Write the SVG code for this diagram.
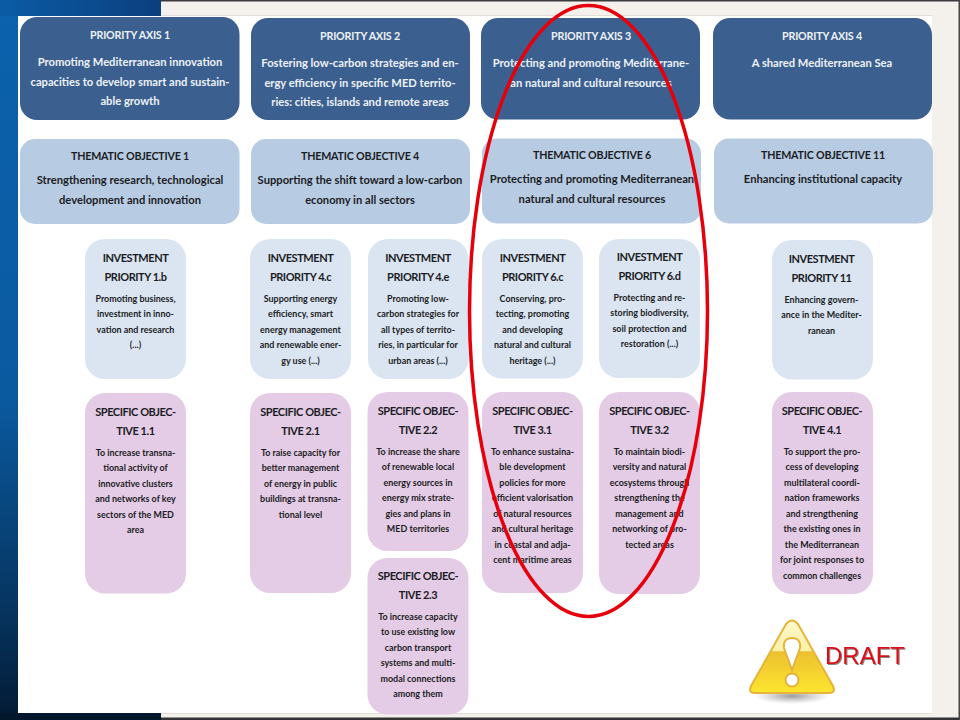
<svg xmlns="http://www.w3.org/2000/svg" width="960" height="720" viewBox="0 0 960 720">
<style>
text{font-family:"Lato","Open Sans","Liberation Sans",sans-serif;text-anchor:middle;font-weight:700}
.pa{fill:#3b608f}.to{fill:#b7cce3}.ip{fill:#dae5f1}.so{fill:#e4cce6}
.pa text{fill:#eef2f7}
.to text,.ip text,.so text{fill:#1c1c24}
.h1{font-size:10.7px;letter-spacing:-.2px}.b1{font-size:11.2px}.h2{font-size:11px;letter-spacing:-.45px}.b2{font-size:8.95px}
</style>
<defs>
<linearGradient id="bg" x1="0" y1="0" x2="0" y2="1"><stop offset="0" stop-color="#0c62ad"/><stop offset=".55" stop-color="#0a5aa0"/><stop offset=".85" stop-color="#06345f"/><stop offset="1" stop-color="#021a33"/></linearGradient>
<linearGradient id="topbar" x1="0" y1="0" x2="1" y2="0"><stop offset="0" stop-color="#0a5ba6"/><stop offset="1" stop-color="#0b3f7e"/></linearGradient>
<linearGradient id="tri" x1="0" y1="0" x2="0" y2="1"><stop offset="0" stop-color="#fff8cf"/><stop offset=".42" stop-color="#fdf0a6"/><stop offset=".43" stop-color="#ecc030"/><stop offset="1" stop-color="#fde52f"/></linearGradient>
<radialGradient id="shade"><stop offset="0" stop-color="#777" stop-opacity=".75"/><stop offset="1" stop-color="#999" stop-opacity="0"/></radialGradient>
<filter id="ds" x="-10%" y="-20%" width="120%" height="150%"><feDropShadow dx="1" dy="1" stdDeviation=".6" flood-color="#555" flood-opacity=".7"/></filter>
</defs>
<g id="background">
<rect width="960" height="720" fill="#f4f1ec"/>
<rect width="960" height="1.5" fill="#3a3a3a"/>
<rect y="717.500" width="960" height="2.500" fill="#333"/>
<rect x="958.500" width="1.500" height="720" fill="#444"/>
<rect width="18" height="720" fill="url(#bg)"/>
<rect width="161" height="16" fill="url(#topbar)"/>
<rect y="713" width="161" height="7" fill="#03172c"/>
<rect x="18" y="16" width="914" height="697" fill="#fff"/>
<rect x="161" y="15" width="771" height="1" fill="#e2ddd8"/>
<rect x="161" y="713" width="771" height="1" fill="#e2ddd8"/>
</g>
<g id="priority-axis-1" class="pa"><rect x="20" y="17" width="219.500" height="103" rx="17"/><text class="h1" x="130" y="39">PRIORITY AXIS 1</text><text class="b1" x="130" y="66">Promoting Mediterranean innovation</text><text class="b1" x="130" y="86">capacities to develop smart and sustain-</text><text class="b1" x="130" y="105">able growth</text></g>
<g id="priority-axis-2" class="pa"><rect x="251" y="18" width="219" height="102" rx="17"/><text class="h1" x="360" y="40">PRIORITY AXIS 2</text><text class="b1" x="360" y="67">Fostering low-carbon strategies and en-</text><text class="b1" x="360" y="87">ergy efficiency in specific MED territo-</text><text class="b1" x="360" y="106">ries: cities, islands and remote areas</text></g>
<g id="priority-axis-3" class="pa"><rect x="481" y="18" width="219" height="101.500" rx="17"/><text class="h1" x="591" y="40">PRIORITY AXIS 3</text><text class="b1" x="591" y="67">Protecting and promoting Mediterrane-</text><text class="b1" x="591" y="87">an natural and cultural resources</text></g>
<g id="priority-axis-4" class="pa"><rect x="713" y="18" width="219" height="101.500" rx="17"/><text class="h1" x="822" y="40">PRIORITY AXIS 4</text><text class="b1" x="822" y="67">A shared Mediterranean Sea</text></g>

<g id="thematic-objective-1" class="to"><rect x="20" y="139" width="219.500" height="85" rx="15"/><text class="h1" x="130" y="160">THEMATIC OBJECTIVE 1</text><text class="b1" x="130" y="184">Strengthening research, technological</text><text class="b1" x="130" y="204">development and innovation</text></g>
<g id="thematic-objective-4" class="to"><rect x="251" y="139" width="219" height="85" rx="15"/><text class="h1" x="360" y="160">THEMATIC OBJECTIVE 4</text><text class="b1" x="360" y="184">Supporting the shift toward a low-carbon</text><text class="b1" x="360" y="204">economy in all sectors</text></g>
<g id="thematic-objective-6" class="to"><rect x="482" y="138.500" width="219" height="85" rx="15"/><text class="h1" x="592" y="159">THEMATIC OBJECTIVE 6</text><text class="b1" x="592" y="183">Protecting and promoting Mediterranean</text><text class="b1" x="592" y="203">natural and cultural resources</text></g>
<g id="thematic-objective-11" class="to"><rect x="714" y="138.500" width="219" height="85" rx="15"/><text class="h1" x="823" y="159">THEMATIC OBJECTIVE 11</text><text class="b1" x="823" y="183">Enhancing institutional capacity</text></g>

<g id="investment-priority-1b" class="ip"><rect x="85" y="239" width="101" height="140" rx="20"/><text class="h2" x="135.500" y="262">INVESTMENT</text><text class="h2" x="135.500" y="281">PRIORITY 1.b</text><text class="b2" x="135.500" y="302">Promoting business,</text><text class="b2" x="135.500" y="317">investment in inno-</text><text class="b2" x="135.500" y="333">vation and research</text><text class="b2" x="135.500" y="348">(...)</text></g>
<g id="investment-priority-4c" class="ip"><rect x="250" y="239" width="101" height="140" rx="20"/><text class="h2" x="300.500" y="262">INVESTMENT</text><text class="h2" x="300.500" y="281">PRIORITY 4.c</text><text class="b2" x="300.500" y="302">Supporting energy</text><text class="b2" x="300.500" y="317">efficiency, smart</text><text class="b2" x="300.500" y="333">energy management</text><text class="b2" x="300.500" y="348">and renewable ener-</text><text class="b2" x="300.500" y="364">gy use (...)</text></g>
<g id="investment-priority-4e" class="ip"><rect x="368" y="239" width="100.500" height="140" rx="20"/><text class="h2" x="418" y="262">INVESTMENT</text><text class="h2" x="418" y="281">PRIORITY 4.e</text><text class="b2" x="418" y="302">Promoting low-</text><text class="b2" x="418" y="317">carbon strategies for</text><text class="b2" x="418" y="333">all types of territo-</text><text class="b2" x="418" y="348">ries, in particular for</text><text class="b2" x="418" y="364">urban areas (...)</text></g>
<g id="investment-priority-6c" class="ip"><rect x="482" y="239" width="101" height="139.500" rx="20"/><text class="h2" x="532.500" y="262">INVESTMENT</text><text class="h2" x="532.500" y="281">PRIORITY 6.c</text><text class="b2" x="532.500" y="302">Conserving, pro-</text><text class="b2" x="532.500" y="317">tecting, promoting</text><text class="b2" x="532.500" y="333">and developing</text><text class="b2" x="532.500" y="348">natural and cultural</text><text class="b2" x="532.500" y="364">heritage (...)</text></g>
<g id="investment-priority-6d" class="ip"><rect x="599" y="239" width="101" height="139" rx="20"/><text class="h2" x="649.500" y="261">INVESTMENT</text><text class="h2" x="649.500" y="280">PRIORITY 6.d</text><text class="b2" x="649.500" y="301">Protecting and re-</text><text class="b2" x="649.500" y="316">storing biodiversity,</text><text class="b2" x="649.500" y="332">soil protection and</text><text class="b2" x="649.500" y="347">restoration (...)</text></g>
<g id="investment-priority-11" class="ip"><rect x="772" y="240" width="101" height="139.500" rx="20"/><text class="h2" x="821.500" y="263">INVESTMENT</text><text class="h2" x="821.500" y="282">PRIORITY 11</text><text class="b2" x="821.500" y="303">Enhancing govern-</text><text class="b2" x="821.500" y="318">ance in the Mediter-</text><text class="b2" x="821.500" y="334">ranean</text></g>

<g id="specific-objective-1-1" class="so"><rect x="85" y="393" width="101" height="200.500" rx="20"/><text class="h2" x="135.500" y="416">SPECIFIC OBJEC-</text><text class="h2" x="135.500" y="435">TIVE 1.1</text><text class="b2" x="135.500" y="456">To increase transna-</text><text class="b2" x="135.500" y="471">tional activity of</text><text class="b2" x="135.500" y="487">innovative clusters</text><text class="b2" x="135.500" y="502">and networks of key</text><text class="b2" x="135.500" y="518">sectors of the MED</text><text class="b2" x="135.500" y="533">area</text></g>
<g id="specific-objective-2-1" class="so"><rect x="250" y="393" width="101" height="200" rx="20"/><text class="h2" x="300.500" y="416">SPECIFIC OBJEC-</text><text class="h2" x="300.500" y="435">TIVE 2.1</text><text class="b2" x="300.500" y="456">To raise capacity for</text><text class="b2" x="300.500" y="471">better management</text><text class="b2" x="300.500" y="487">of energy in public</text><text class="b2" x="300.500" y="502">buildings at transna-</text><text class="b2" x="300.500" y="518">tional level</text></g>
<g id="specific-objective-2-2" class="so"><rect x="367.500" y="392" width="101" height="159" rx="20"/><text class="h2" x="418" y="415">SPECIFIC OBJEC-</text><text class="h2" x="418" y="434">TIVE 2.2</text><text class="b2" x="418" y="455">To increase the share</text><text class="b2" x="418" y="470">of renewable local</text><text class="b2" x="418" y="486">energy sources in</text><text class="b2" x="418" y="501">energy mix strate-</text><text class="b2" x="418" y="517">gies and plans in</text><text class="b2" x="418" y="532">MED territories</text></g>
<g id="specific-objective-2-3" class="so"><rect x="367.500" y="558" width="101" height="156.500" rx="20"/><text class="h2" x="418" y="580">SPECIFIC OBJEC-</text><text class="h2" x="418" y="599">TIVE 2.3</text><text class="b2" x="418" y="620">To increase capacity</text><text class="b2" x="418" y="635">to use existing low</text><text class="b2" x="418" y="651">carbon transport</text><text class="b2" x="418" y="666">systems and multi-</text><text class="b2" x="418" y="682">modal connections</text><text class="b2" x="418" y="697">among them</text></g>
<g id="specific-objective-3-1" class="so"><rect x="482" y="392" width="101" height="201" rx="20"/><text class="h2" x="532.500" y="415">SPECIFIC OBJEC-</text><text class="h2" x="532.500" y="434">TIVE 3.1</text><text class="b2" x="532.500" y="455">To enhance sustaina-</text><text class="b2" x="532.500" y="470">ble development</text><text class="b2" x="532.500" y="486">policies for more</text><text class="b2" x="532.500" y="501">efficient valorisation</text><text class="b2" x="532.500" y="517">of natural resources</text><text class="b2" x="532.500" y="532">and cultural heritage</text><text class="b2" x="532.500" y="548">in coastal and adja-</text><text class="b2" x="532.500" y="563">cent maritime areas</text></g>
<g id="specific-objective-3-2" class="so"><rect x="599" y="392" width="101" height="202" rx="20"/><text class="h2" x="649.500" y="415">SPECIFIC OBJEC-</text><text class="h2" x="649.500" y="434">TIVE 3.2</text><text class="b2" x="649.500" y="455">To maintain biodi-</text><text class="b2" x="649.500" y="470">versity and natural</text><text class="b2" x="649.500" y="486">ecosystems through</text><text class="b2" x="649.500" y="501">strengthening the</text><text class="b2" x="649.500" y="517">management and</text><text class="b2" x="649.500" y="532">networking of pro-</text><text class="b2" x="649.500" y="548">tected areas</text></g>
<g id="specific-objective-4-1" class="so"><rect x="772" y="392" width="101" height="202" rx="20"/><text class="h2" x="822" y="415">SPECIFIC OBJEC-</text><text class="h2" x="822" y="434">TIVE 4.1</text><text class="b2" x="822" y="455">To support the pro-</text><text class="b2" x="822" y="470">cess of developing</text><text class="b2" x="822" y="486">multilateral coordi-</text><text class="b2" x="822" y="501">nation frameworks</text><text class="b2" x="822" y="517">and strengthening</text><text class="b2" x="822" y="532">the existing ones in</text><text class="b2" x="822" y="548">the Mediterranean</text><text class="b2" x="822" y="563">for joint responses to</text><text class="b2" x="822" y="579">common challenges</text></g>

<g id="connectors"><ellipse cx="588.500" cy="311" rx="119" ry="305.500" fill="none" stroke="#e6000c" stroke-width="3.500"/></g>

<g id="draft-warning">
<ellipse cx="792" cy="696" rx="38" ry="8" fill="url(#shade)"/>
<path d="M786 624Q792 617 798 624L833 686Q836 693 829 693H755Q748 693 751 686Z" fill="url(#tri)" stroke="#e4b53a" stroke-width="2"/>
<path d="M792 638C786 638 783 642 784 648L792 670L800 648C801 642 798 638 792 638Z" fill="#fff" stroke="#e4b53a" stroke-width="2"/>
<circle cx="792" cy="680" r="6.500" fill="#fff" stroke="#e4b53a" stroke-width="2"/>
<text x="865" y="664" style="font-family:'Liberation Sans',Arial,sans-serif;font-size:24px;font-weight:400;fill:#dc0a17" filter="url(#ds)">DRAFT</text>
</g>
</svg>
